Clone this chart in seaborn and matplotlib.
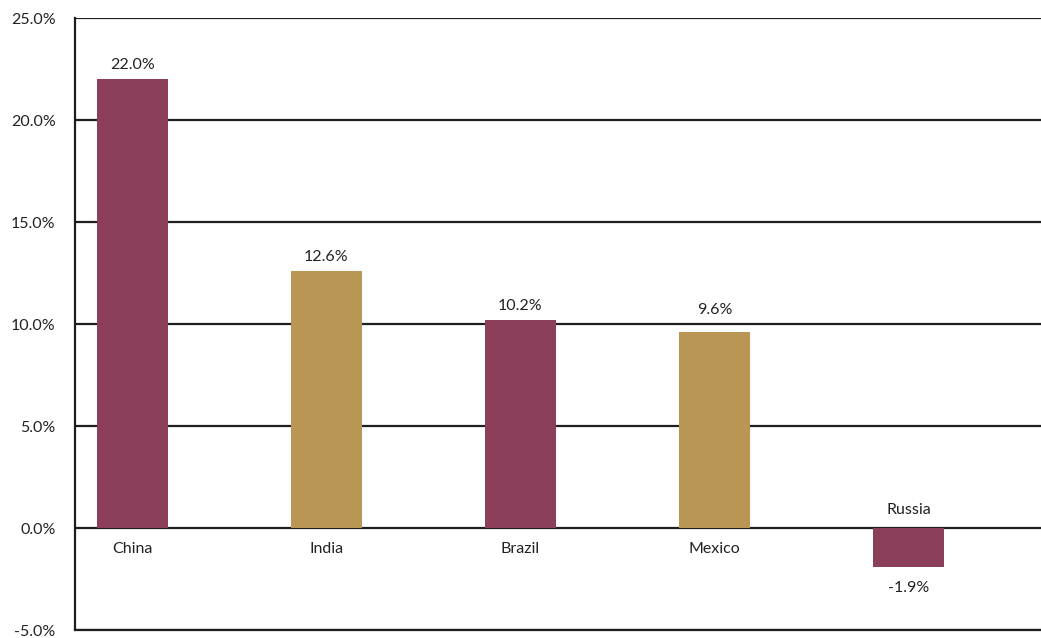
import matplotlib
matplotlib.use("Agg")
import matplotlib.pyplot as plt
import seaborn as sns
import pandas as pd
import math

countries = ["China", "India", "Brazil", "Mexico", "Russia"]
growth = [22.0, 12.6, 10.2, 9.6, -1.9]
bar_colors = ["#8B3F5A", "#B99653", "#8B3F5A", "#B99653", "#8B3F5A"]
yticks = [-5, 0, 5, 10, 15, 20, 25]

sns.set_theme(style="white")
plt.rcParams["font.family"] = ["Lato", "DejaVu Sans"]

df = pd.DataFrame({"country": countries, "growth": growth})

fig = plt.figure(figsize=(10.41, 6.38), dpi=100)
ax = fig.add_axes([75 / 1041, 8 / 638, 966 / 1041, 612 / 638])

sns.barplot(data=df, x="country", y="growth", hue="country",
            palette=bar_colors, width=0.366, legend=False,
            saturation=1, linewidth=0, ax=ax, zorder=3)

ax.set_ylim(-5, 25)
ax.set_xlim(-0.296, 4.683)
ax.set_yticks(yticks)
ax.set_yticklabels([f"{v:.1f}%" for v in yticks], fontsize=11.5, color="#222222")
ax.yaxis.set_tick_params(which="both", left=False, right=False, length=0, pad=14)
ax.set_xticks([])
ax.set_xlabel("")
ax.set_ylabel("")

# horizontal rules at every tick
for v in yticks:
    ax.axhline(v, color="#1e1e1e", lw=1.6, zorder=2)

for side in ["top", "right"]:
    ax.spines[side].set_visible(False)
ax.spines["left"].set_color("#1e1e1e")
ax.spines["left"].set_linewidth(1.6)
ax.spines["bottom"].set_color("#1e1e1e")
ax.spines["bottom"].set_linewidth(1.6)

# value labels and country names
fs = 11.5
for i, (name, val) in enumerate(zip(countries, growth)):
    if val >= 0:
        # keep the label clear of a rule sitting just above the bar
        rule_above = math.ceil(val / 5) * 5
        anchor = rule_above if 0 < rule_above - val < 1 else val
        ax.annotate(f"{val:.1f}%", (i, anchor), xytext=(0, 5), textcoords="offset points",
                    ha="center", va="bottom", fontsize=fs, color="#222222")
        ax.annotate(name, (i, 0), xytext=(0, -10), textcoords="offset points",
                    ha="center", va="top", fontsize=fs, color="#222222")
    else:
        ax.annotate(f"{val:.1f}%", (i, val), xytext=(0, -10), textcoords="offset points",
                    ha="center", va="top", fontsize=fs, color="#222222")
        ax.annotate(name, (i, 0), xytext=(0, 8), textcoords="offset points",
                    ha="center", va="bottom", fontsize=fs, color="#222222")

fig.savefig("out.png", dpi=100)
